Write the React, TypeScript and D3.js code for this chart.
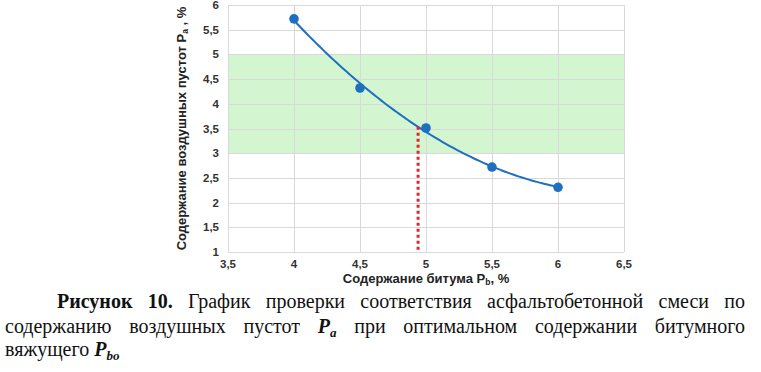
import React, { useEffect, useRef } from 'react';
import * as d3 from 'd3';

// bitumen content, % and air voids, %
const bitumen = [4, 4.5, 5, 5.5, 6];
const airVoids = [5.72, 4.32, 3.51, 2.72, 2.31];
const xTicks = [3.5, 4, 4.5, 5, 5.5, 6, 6.5];
const yTicks = [1, 1.5, 2, 2.5, 3, 3.5, 4, 4.5, 5, 5.5, 6];
const bandRange = [3, 5]; // allowed air voids
const optimumPb = 4.94;

type Seg = { t: string; bold?: boolean; italic?: boolean; sub?: boolean };
const captionLines: { x: number; y: number; justify: boolean; words: Seg[][] }[] = [
    {
        x: 57, y: 308, justify: true,
        words: [
            [{ t: 'Рисунок', bold: true }], [{ t: '10.', bold: true }],
            [{ t: 'График' }], [{ t: 'проверки' }], [{ t: 'соответствия' }],
            [{ t: 'асфальтобетонной' }], [{ t: 'смеси' }], [{ t: 'по' }]
        ]
    },
    {
        x: 5, y: 333, justify: true,
        words: [
            [{ t: 'содержанию' }], [{ t: 'воздушных' }], [{ t: 'пустот' }],
            [{ t: 'P', bold: true, italic: true }, { t: 'a', bold: true, italic: true, sub: true }],
            [{ t: 'при' }], [{ t: 'оптимальном' }], [{ t: 'содержании' }], [{ t: 'битумного' }]
        ]
    },
    {
        x: 5, y: 356, justify: false,
        words: [
            [{ t: 'вяжущего' }],
            [{ t: 'P', bold: true, italic: true }, { t: 'bo', bold: true, italic: true, sub: true }]
        ]
    }
];

const fmt = (v: number) => String(v).replace('.', ',');

// least squares quadratic trendline
function quadFit(xs: number[], ys: number[]) {
    const n = xs.length;
    let s1 = 0, s2 = 0, s3 = 0, s4 = 0, sy = 0, sxy = 0, sx2y = 0;
    xs.forEach((x, i) => {
        const y = ys[i];
        s1 += x; s2 += x * x; s3 += x ** 3; s4 += x ** 4;
        sy += y; sxy += x * y; sx2y += x * x * y;
    });
    const m = [[n, s1, s2, sy], [s1, s2, s3, sxy], [s2, s3, s4, sx2y]];
    for (let i = 0; i < 3; i++) {
        for (let k = i + 1; k < 3; k++) {
            const f = m[k][i] / m[i][i];
            for (let j = i; j < 4; j++) m[k][j] -= f * m[i][j];
        }
    }
    const c = [0, 0, 0];
    for (let i = 2; i >= 0; i--) {
        let s = m[i][3];
        for (let j = i + 1; j < 3; j++) s -= m[i][j] * c[j];
        c[i] = s / m[i][i];
    }
    return (x: number) => c[0] + c[1] * x + c[2] * x * x;
}

export default function App() {
    const ref = useRef<SVGSVGElement>(null);

    useEffect(() => {
        document.body.style.margin = '0';
        if (!ref.current) return;
        const svg = d3.select(ref.current);
        svg.selectAll('*').remove();

        const x = d3.scaleLinear().domain([3.5, 6.5]).range([228, 624]);
        const y = d3.scaleLinear().domain([1, 6]).range([252, 5]);
        const sans = 'Liberation Sans, Arial, sans-serif';

        svg.append('rect').attr('width', 761).attr('height', 372).attr('fill', '#fff');

        // green band
        svg.append('rect')
            .attr('x', x(3.5)).attr('width', x(6.5) - x(3.5))
            .attr('y', y(bandRange[1])).attr('height', y(bandRange[0]) - y(bandRange[1]))
            .attr('fill', '#d3f6d0');

        // grid
        const g = svg.append('g').attr('stroke', '#d9d9d9').attr('stroke-width', 1);
        yTicks.forEach(v => {
            g.append('line').attr('x1', x(3.5)).attr('x2', x(6.5))
                .attr('y1', Math.round(y(v)) + 0.5).attr('y2', Math.round(y(v)) + 0.5);
        });
        xTicks.forEach(v => {
            g.append('line').attr('y1', y(1)).attr('y2', y(6))
                .attr('x1', Math.round(x(v)) + 0.5).attr('x2', Math.round(x(v)) + 0.5);
        });

        // tick labels
        svg.append('g').selectAll('text').data(yTicks).join('text')
            .attr('x', 219).attr('y', d => y(d) + 4)
            .attr('text-anchor', 'end')
            .attr('font-family', sans).attr('font-size', 11.5).attr('font-weight', 'bold')
            .attr('fill', '#333').text(d => fmt(d));
        svg.append('g').selectAll('text').data(xTicks).join('text')
            .attr('x', d => x(d)).attr('y', 268)
            .attr('text-anchor', 'middle')
            .attr('font-family', sans).attr('font-size', 11.5).attr('font-weight', 'bold')
            .attr('fill', '#333').text(d => fmt(d));

        // axis titles
        const xt = svg.append('text').attr('x', x(5)).attr('y', 283)
            .attr('text-anchor', 'middle').attr('font-family', sans)
            .attr('font-size', 13).attr('font-weight', 'bold').attr('fill', '#222');
        xt.append('tspan').text('Содержание битума P');
        xt.append('tspan').attr('font-size', 8.5).attr('dy', 2).text('b');
        xt.append('tspan').attr('dy', -2).text(', %');

        const yt = svg.append('text')
            .attr('transform', `translate(186,${(y(1) + y(6)) / 2}) rotate(-90)`)
            .attr('text-anchor', 'middle').attr('font-family', sans)
            .attr('font-size', 13).attr('font-weight', 'bold').attr('fill', '#222');
        yt.append('tspan').text('Содержание воздушных пустот P');
        yt.append('tspan').attr('font-size', 8.5).attr('dy', 2).text('a');
        yt.append('tspan').attr('dy', -2).text(' , %');

        // trendline
        const fit = quadFit(bitumen, airVoids);
        const xs = d3.range(bitumen[0], bitumen[bitumen.length - 1] + 0.001, 0.02);
        svg.append('path')
            .datum(xs)
            .attr('d', d3.line<number>().x(d => x(d)).y(d => y(fit(d))).curve(d3.curveMonotoneX))
            .attr('fill', 'none').attr('stroke', '#1f6fc1').attr('stroke-width', 2);

        // optimum marker
        svg.append('line')
            .attr('x1', x(optimumPb)).attr('x2', x(optimumPb))
            .attr('y1', y(fit(optimumPb))).attr('y2', y(1))
            .attr('stroke', '#e0262d').attr('stroke-width', 3)
            .attr('stroke-dasharray', '3,3');

        // points
        svg.append('g').selectAll('circle').data(bitumen).join('circle')
            .attr('cx', d => x(d)).attr('cy', (d, i) => y(airVoids[i]))
            .attr('r', 4.8).attr('fill', '#1f6fc1');

        // caption with justified lines
        const cap = svg.append('g').attr('font-family', 'Liberation Serif, Times New Roman, serif')
            .attr('font-size', 20).attr('fill', '#111');
        captionLines.forEach(line => {
            const nodes = line.words.map(w => {
                const t = cap.append('text').attr('y', line.y);
                w.forEach(s => {
                    const ts = t.append('tspan').text(s.t)
                        .attr('font-weight', s.bold ? 'bold' : 'normal')
                        .attr('font-style', s.italic ? 'italic' : 'normal');
                    if (s.sub) ts.attr('font-size', 13).attr('dy', 4);
                });
                return t;
            });
            const widths = nodes.map(n => (n.node() as SVGTextElement).getComputedTextLength());
            const total = d3.sum(widths);
            const gap = line.justify ? (745 - line.x - total) / (nodes.length - 1) : 5;
            let cx = line.x;
            nodes.forEach((n, i) => {
                n.attr('x', cx);
                cx += widths[i] + gap;
            });
        });
    }, []);

    return <svg ref={ref} width={761} height={372} style={{ display: 'block' }} />;
}
